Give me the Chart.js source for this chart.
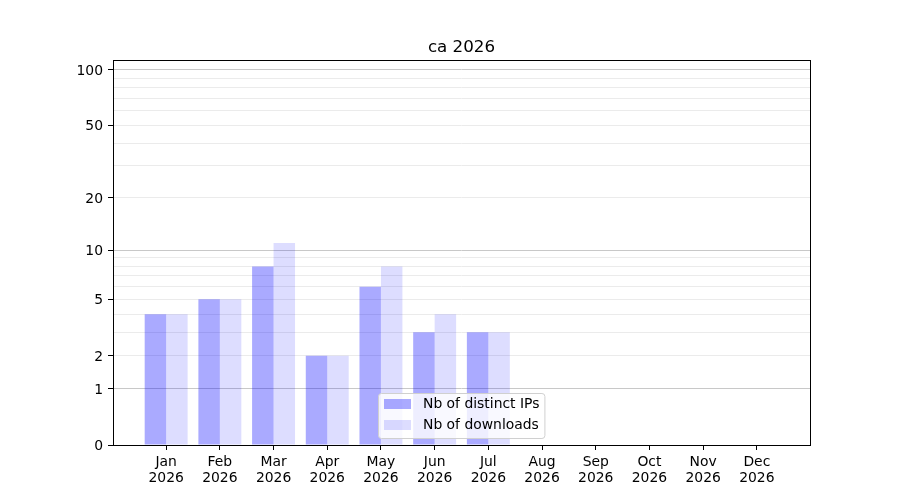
<!DOCTYPE html>
<html>
<head>
<meta charset="utf-8">
<script src="https://cdn.jsdelivr.net/npm/chart.js@4.4.0/dist/chart.umd.min.js"></script>
<style>
html,body{margin:0;padding:0;background:#fff;}
#wrap{width:900px;height:500px;}
</style>
</head>
<body>
<div id="wrap"><canvas id="c" width="900" height="500"></canvas></div>
<script>
// ---- data ----
const titleText = 'ca 2026';
const months = ['Jan','Feb','Mar','Apr','May','Jun','Jul','Aug','Sep','Oct','Nov','Dec'];
const yearLabel = '2026';
const ipsValues = [4,5,8,2,6,3,3,0,0,0,0,0];
const downloadsValues = [4,5,11,2,8,4,3,0,0,0,0,0];
const seriesNames = ['Nb of distinct IPs','Nb of downloads'];
const yTickLabels = [0,1,2,5,10,20,50,100];
const yMajorGrid = [1,10,100];
const yMinorGrid = [2,3,4,5,6,7,8,9,20,30,40,50,60,70,80,90];
const yMin = 0, yMax = 113;

// ---- custom log(1+x) scale ----
class Log1pScale extends Chart.LinearScale {
  determineDataLimits() {
    this.min = this.options.min;
    this.max = this.options.max;
  }
  buildTicks() {
    const vals = Array.from(new Set([0].concat(yMajorGrid, yMinorGrid, yTickLabels))).sort((a,b)=>a-b);
    return vals.filter(v => v >= this.min && v <= this.max).map(v => ({value: v}));
  }
  configure() {
    super.configure();
    this._ls = Math.log10(this.min + 1);
    this._lr = Math.log10(this.max + 1) - this._ls;
  }
  getPixelForValue(v) {
    return this.getPixelForDecimal((Math.log10(v + 1) - this._ls) / this._lr);
  }
  getValueForPixel(p) {
    return Math.pow(10, this._ls + this.getDecimalForPixel(p) * this._lr) - 1;
  }
}
Log1pScale.id = 'log1p';
Log1pScale.defaults = {};
Chart.register(Log1pScale);

const FONT = 'DejaVu Sans';
Chart.defaults.font.family = FONT;
Chart.defaults.font.size = 13.9;
Chart.defaults.color = '#000';

const colors = ['rgba(0,0,255,0.333)', 'rgba(0,0,255,0.133)'];
const xIdx = months.map((m, i) => i);

const frame = {
  id: 'frame',
  afterDatasetsDraw(chart) {
    const {ctx, chartArea: a} = chart;
    ctx.save();
    ctx.strokeStyle = '#000';
    ctx.lineWidth = 1;
    ctx.strokeRect(a.left + 0.5, a.top + 0.5, a.right - a.left, a.bottom - a.top);
    // title
    ctx.fillStyle = '#000';
    ctx.font = '16.7px "' + FONT + '"';
    ctx.textAlign = 'center';
    ctx.textBaseline = 'alphabetic';
    ctx.fillText(titleText, (a.left + a.right) / 2, a.top - 8.5);
    // legend (lower center)
    ctx.font = '13.9px "' + FONT + '"';
    const ds = chart.data.datasets;
    let tw = 0;
    ds.forEach(d => { tw = Math.max(tw, ctx.measureText(d.label).width); });
    const padL = 6, patchW = 27, patchH = 10, gap = 12, padR = 5, rowH = 21;
    const bw = padL + patchW + gap + tw + padR;
    const bh = 45;
    const bx = Math.round((a.left + a.right) / 2 - bw / 2) + 0.5;
    const by = Math.round(a.bottom - 7 - bh) + 0.5;
    ctx.beginPath();
    if (ctx.roundRect) ctx.roundRect(bx, by, bw, bh, 3); else ctx.rect(bx, by, bw, bh);
    ctx.fillStyle = 'rgba(255,255,255,0.8)';
    ctx.fill();
    ctx.strokeStyle = '#d0d0d0';
    ctx.stroke();
    ds.forEach((d, i) => {
      const py = by - 0.5 + 6 + i * rowH;
      ctx.fillStyle = d.backgroundColor;
      ctx.fillRect(bx - 0.5 + padL, py, patchW, patchH);
      ctx.fillStyle = '#000';
      ctx.textAlign = 'left';
      ctx.textBaseline = 'middle';
      ctx.fillText(d.label, bx - 0.5 + padL + patchW + gap, py + patchH / 2 + 0.5);
    });
    ctx.restore();
  }
};

new Chart(document.getElementById('c'), {
  type: 'bar',
  data: {
    datasets: [
      { label: seriesNames[0], data: xIdx.map(i => ({x: i, y: ipsValues[i]})), backgroundColor: colors[0], borderWidth: 0 },
      { label: seriesNames[1], data: xIdx.map(i => ({x: i, y: downloadsValues[i]})), backgroundColor: colors[1], borderWidth: 0 }
    ]
  },
  options: {
    responsive: false,
    animation: false,
    devicePixelRatio: 1,
    layout: { padding: { left: 0, right: 90, top: 60, bottom: 0 } },
    datasets: { bar: { categoryPercentage: 0.8, barPercentage: 1.0 } },
    plugins: { legend: { display: false }, title: { display: false }, tooltip: { enabled: false } },
    scales: {
      x: {
        type: 'linear',
        min: -0.99,
        max: 11.99,
        offset: false,
        grid: { display: true, offset: false, drawOnChartArea: false, drawTicks: true, tickLength: 5, tickColor: '#000', tickWidth: 1 },
        border: { display: false },
        ticks: {
          autoSkip: false, maxRotation: 0, minRotation: 0, padding: 4,
          font: { size: 13.9, lineHeight: '16px' },
          callback: (v) => (Number.isInteger(v) && v >= 0 && v < months.length) ? [months[v], yearLabel] : ''
        },
        afterBuildTicks: (s) => { s.ticks = xIdx.map(v => ({value: v})); },
        afterFit: (s) => { s.height = 55; }
      },
      y: {
        type: 'log1p',
        min: yMin,
        max: yMax,
        grid: {
          drawTicks: true, tickLength: 5, tickWidth: 1, lineWidth: 1,
          color: (c) => {
            const v = c.tick ? c.tick.value : null;
            if (yMajorGrid.includes(v)) return '#c8c8c8';
            if (yMinorGrid.includes(v)) return '#ebebeb';
            return 'rgba(0,0,0,0)';
          },
          tickColor: (c) => (c.tick && yTickLabels.includes(c.tick.value)) ? '#000' : 'rgba(0,0,0,0)'
        },
        border: { display: false },
        ticks: {
          autoSkip: false, padding: 5, labelOffset: 1.5,
          font: { size: 13.9 },
          callback: (v) => yTickLabels.includes(v) ? String(v) : ''
        },
        afterFit: (s) => { s.width = 113; }
      }
    }
  },
  plugins: [frame]
});
</script>
</body>
</html>
